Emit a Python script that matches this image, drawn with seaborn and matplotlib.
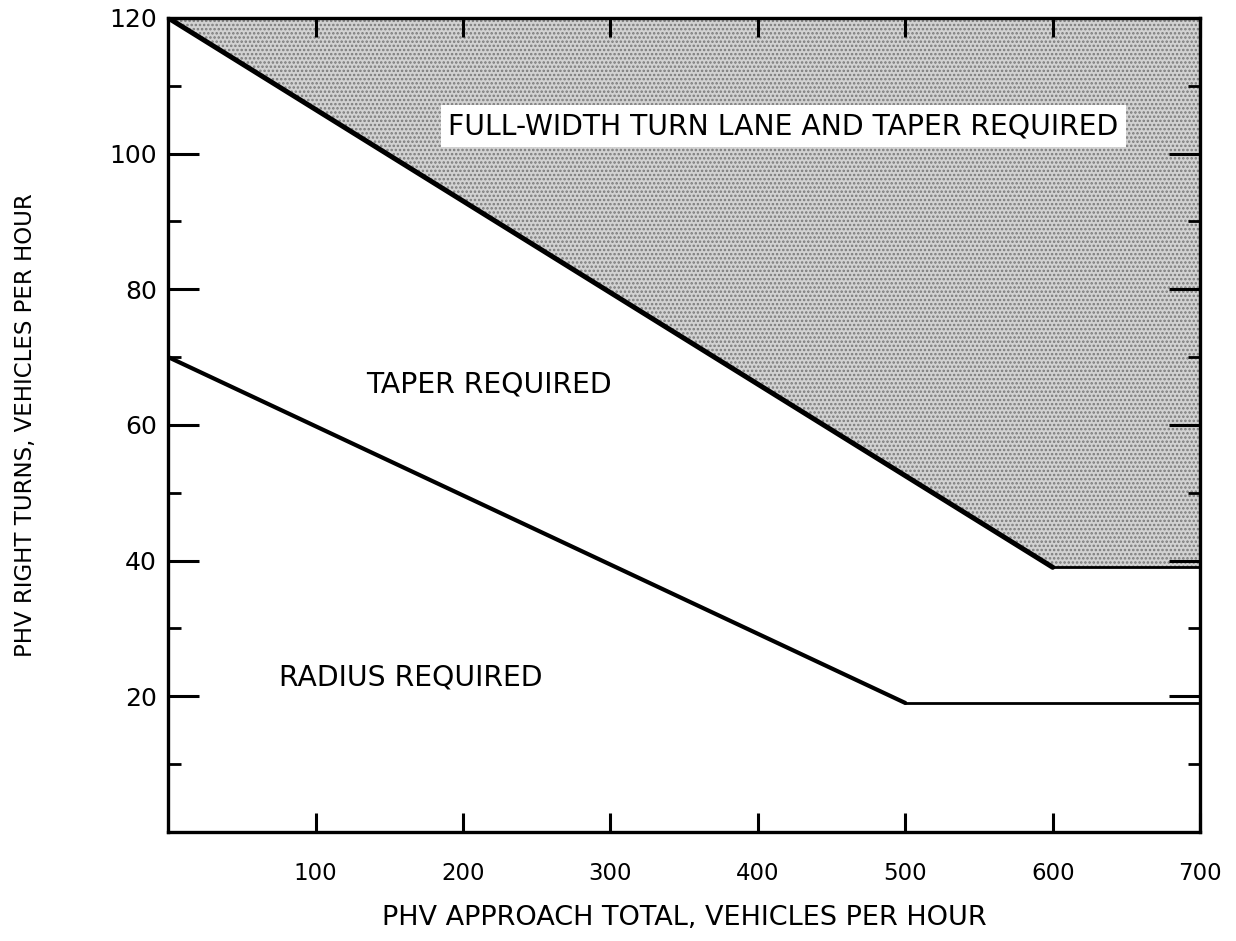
import numpy as np
import matplotlib
matplotlib.use('Agg')
import matplotlib.pyplot as plt
import matplotlib.ticker as mticker
import seaborn as sns

# --- Style -------------------------------------------------------------------
sns.set_style('white')
plt.rcParams['font.family'] = ['DejaVu Sans']
plt.rcParams['text.color'] = 'black'
plt.rcParams['axes.labelcolor'] = 'black'
plt.rcParams['hatch.linewidth'] = 1.2
plt.rcParams['hatch.color'] = '#7a7a7a'

# --- Data --------------------------------------------------------------------
upper_x = [0, 600, 700]      # full-width turn lane threshold
upper_y = [120, 39, 39]
lower_x = [0, 500, 700]      # taper threshold
lower_y = [70, 19, 19]
x_ticks = [100, 200, 300, 400, 500, 600, 700]
y_ticks = [20, 40, 60, 80, 100, 120]
y_minor = [10, 30, 50, 70, 90, 110]
zone_labels = ['FULL-WIDTH TURN LANE AND TAPER REQUIRED', 'TAPER REQUIRED', 'RADIUS REQUIRED']
zone_pos = [(190, 104), (134, 66), (75, 22.7)]

fig = plt.figure(figsize=(12.36, 9.41), dpi=100)
ax = fig.add_axes([0.136, 0.116, 0.835, 0.865])
ax.set_axisbelow(False)

# shaded region above the upper curve
ax.fill_between(upper_x, upper_y, 120, facecolor='#d2d2d2', hatch='....',
                edgecolor='#7a7a7a', linewidth=0)

# sloped parts thick, flat parts thinner
sns.lineplot(x=upper_x[:2], y=upper_y[:2], color='black', lw=3.6, ax=ax)
sns.lineplot(x=upper_x[1:], y=upper_y[1:], color='black', lw=2.0, ax=ax)
sns.lineplot(x=lower_x[:2], y=lower_y[:2], color='black', lw=3.0, ax=ax)
sns.lineplot(x=lower_x[1:], y=lower_y[1:], color='black', lw=2.0, ax=ax)

for txt, (tx, ty) in zip(zone_labels, zone_pos):
    bbox = dict(facecolor='white', edgecolor='none', pad=5) if txt.startswith('FULL') else None
    ax.text(tx, ty, txt, fontsize=20.3, va='center', ha='left', bbox=bbox)

ax.set_xlim(0, 700)
ax.set_ylim(0, 120)
ax.set_xticks(x_ticks)
ax.set_yticks(y_ticks)
ax.yaxis.set_minor_locator(mticker.FixedLocator(y_minor))
ax.tick_params(axis='x', which='major', direction='in', bottom=True, top=True, length=14,
               width=2.2, color='black', labelcolor='black', labelsize=16.5, pad=22)
ax.tick_params(axis='y', which='major', direction='in', left=True, right=True, length=22,
               width=2.2, color='black', labelcolor='black', labelsize=18, pad=8)
ax.tick_params(axis='y', which='minor', direction='in', left=True, right=True, length=9,
               width=2.0, color='black')

for s in ax.spines.values():
    s.set_linewidth(2.4)
    s.set_color('black')

ax.set_xlabel('PHV APPROACH TOTAL, VEHICLES PER HOUR', fontsize=19.5, labelpad=14)
ax.set_ylabel('PHV RIGHT TURNS, VEHICLES PER HOUR', fontsize=16.5, labelpad=52)

fig.savefig('out.png', dpi=100)
